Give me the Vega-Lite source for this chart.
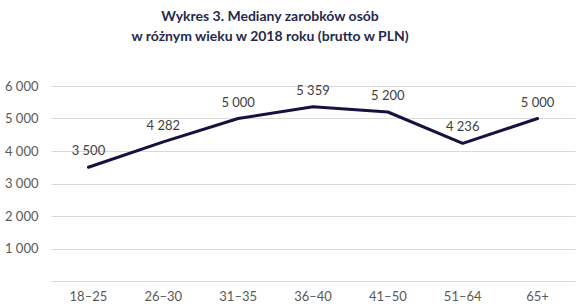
{
  "$schema": "https://vega.github.io/schema/vega-lite/v6.json",
  "autosize": {"type": "none"},
  "width": 524,
  "height": 195,
  "padding": {"left": 51, "top": 86, "right": 4, "bottom": 24},
  "background": "white",
  "title": {
    "text": ["Wykres 3. Mediany zarobków osób", "w różnym wieku w 2018 roku (brutto w PLN)"],
    "font": "Lato",
    "fontSize": 14,
    "fontWeight": "bold",
    "color": "#1f2a4d",
    "anchor": "middle",
    "dx": -43,
    "lineHeight": 20,
    "offset": 36
  },
  "data": {
    "values": [
      {"age": "18–25", "value": 3500},
      {"age": "26–30", "value": 4282},
      {"age": "31–35", "value": 5000},
      {"age": "36–40", "value": 5359},
      {"age": "41–50", "value": 5200},
      {"age": "51–64", "value": 4236},
      {"age": "65+", "value": 5000}
    ]
  },
  "encoding": {
    "x": {
      "field": "age",
      "type": "ordinal",
      "sort": null,
      "scale": {"type": "band", "paddingInner": 0, "paddingOuter": 0},
      "axis": {
        "title": null,
        "labelAngle": 0,
        "ticks": false,
        "domain": false,
        "labelPadding": 9,
        "labelFont": "Lato",
        "labelFontSize": 13,
        "labelColor": "#595959"
      }
    },
    "y": {
      "field": "value",
      "type": "quantitative",
      "scale": {"domain": [0, 6000], "nice": false},
      "axis": {
        "title": null,
        "values": [0, 1000, 2000, 3000, 4000, 5000, 6000],
        "labelExpr": "datum.value == 0 ? '' : replace(format(datum.value, ','), ',', ' ')",
        "ticks": false,
        "domain": false,
        "gridColor": "#d9d9d9",
        "gridWidth": 1,
        "labelPadding": 13,
        "labelFont": "Lato",
        "labelFontSize": 13,
        "labelColor": "#595959"
      }
    }
  },
  "layer": [
    {
      "mark": {"type": "line", "color": "#16123f", "strokeWidth": 3, "strokeCap": "round", "strokeJoin": "round"}
    },
    {
      "mark": {"type": "text", "dy": -16, "baseline": "middle", "align": "center", "font": "Lato", "fontSize": 13, "color": "#404040"},
      "encoding": {
        "text": {"field": "value", "type": "quantitative", "format": ",.0f"}
      }
    }
  ],
  "config": {
    "view": {"stroke": null},
    "locale": {"number": {"decimal": ",", "thousands": " ", "grouping": [3], "currency": ["", " zł"]}}
  }
}
